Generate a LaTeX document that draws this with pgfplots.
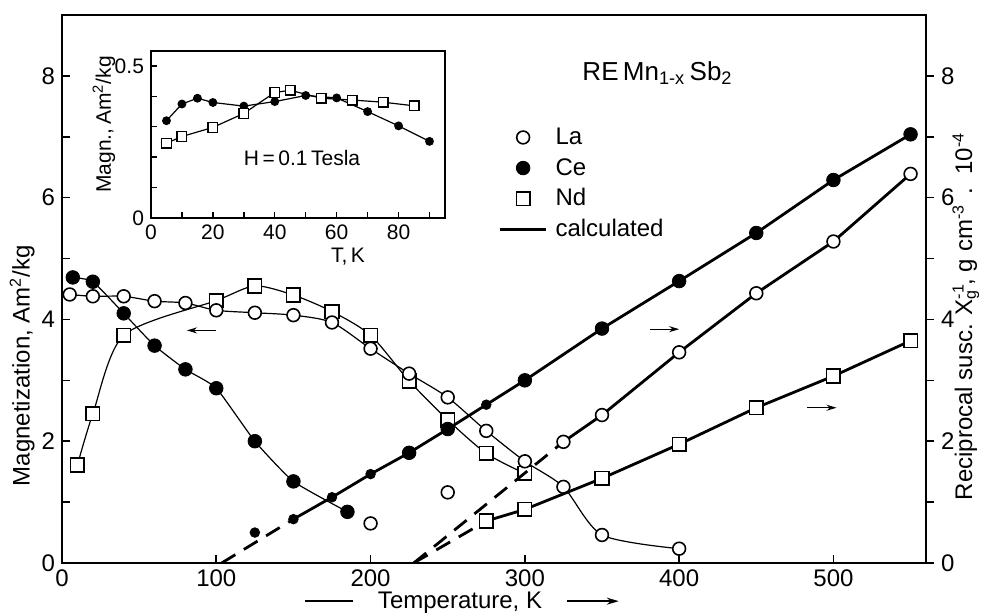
\documentclass[border=0pt]{standalone}
\usepackage{fontspec}
\setmainfont{Liberation Sans}
\usepackage{pgfplots}
\pgfplotsset{compat=1.18}
\usetikzlibrary{arrows.meta}

\newcommand\mainfs{\fontsize{12}{14}\selectfont}
\newcommand\insfs{\fontsize{10.5}{12}\selectfont}

\pgfplotsset{
  magline/.style={black, line width=0.6pt, smooth, tension=0.45},
  calcline/.style={black, line width=1.4pt},
  extrap/.style={black, line width=1.4pt, dash pattern=on 8pt off 5pt},
  openc/.style={only marks, mark=*, mark size=3.2pt, mark options={fill=white, draw=black, line width=0.8pt}},
  fillc/.style={only marks, mark=*, mark size=3.4pt, mark options={fill=black, draw=black}},
  smallc/.style={only marks, mark=*, mark size=2.4pt, mark options={fill=black, draw=black}},
  opens/.style={only marks, mark=square*, mark size=3.4pt, mark options={fill=white, draw=black, line width=0.8pt}},
}

\begin{document}
\begin{tikzpicture}
\useasboundingbox (-31pt,-26pt) rectangle (459.5pt,281.5pt);

% left axis: magnetization
\begin{axis}[
  scale only axis, width=432pt, height=274pt,
  xmin=0, xmax=560, ymin=0, ymax=9,
  xtick={0,100,...,500}, ytick={0,2,...,8}, minor ytick={1,3,5,7},
  xtick pos=bottom, ytick pos=left, tick align=inside,
  major tick length=4pt, minor tick length=4pt,
  axis line style={line width=1pt}, tick style={line width=0.8pt, black},
  /pgf/number format/assume math mode=true,
  tick label style={font=\mainfs},
  label style={font=\mainfs},
  ylabel={Magnetization, Am\textsuperscript{2}/kg},
  ylabel style={at={(axis description cs:-0.046,0.36)}, anchor=center},
  xlabel={\tikz[baseline=-0.6ex]\draw[line width=0.7pt] (0,0)--(24pt,0);\quad Temperature, K\quad\tikz[baseline=-0.6ex]\draw[line width=0.7pt,-{Stealth[length=6pt,width=3.5pt]}] (0,0)--(26pt,0);},
  xlabel style={at={(axis description cs:0.463,-0.073)}, anchor=center},
]
% La
\addplot[magline] coordinates {(5,4.41) (20,4.38) (40,4.38) (60,4.30) (80,4.27) (100,4.15) (125,4.11) (150,4.07) (175,3.95) (200,3.52) (225,3.11) (250,2.72) (275,2.17) (300,1.67) (325,1.25) (350,0.46) (400,0.235)};
% Ce
\addplot[magline, tension=0.3] coordinates {(7,4.69) (20,4.62) (40,4.10) (60,3.57) (80,3.18) (100,2.87) (125,2.0) (150,1.34) (185,0.84)};
% Nd
\addplot[magline] coordinates {(10,1.61) (20,2.45) (40,3.74) (100,4.31) (125,4.55) (150,4.40) (175,4.13) (200,3.74) (225,2.99) (250,2.35) (275,1.80) (300,1.47)};
\addplot[opens] coordinates {(10,1.61) (20,2.45) (40,3.74) (100,4.31) (125,4.55) (150,4.40) (175,4.13) (200,3.74) (225,2.99) (250,2.35) (275,1.80) (300,1.47)};
\addplot[openc] coordinates {(5,4.41) (20,4.38) (40,4.38) (60,4.30) (80,4.27) (100,4.15) (125,4.11) (150,4.07) (175,3.95) (200,3.52) (225,3.11) (250,2.72) (275,2.17) (300,1.67) (325,1.25) (350,0.46) (400,0.235)};
\addplot[openc] coordinates {(200,0.65) (250,1.16)};
\addplot[fillc] coordinates {(7,4.69) (20,4.62) (40,4.10) (60,3.57) (80,3.18) (100,2.87) (125,2.0) (150,1.34) (185,0.84)};
\addplot[smallc] coordinates {(125,0.50)};
\draw[line width=0.6pt, -{Stealth[length=5pt,width=3pt]}] (axis cs:100,3.82) -- (axis cs:81,3.82);
\node[font=\fontsize{13}{15}\selectfont] at (axis cs:386,8.05) {RE\,Mn\textsubscript{1-x}\,Sb\textsubscript{2}};
\end{axis}

% right axis: reciprocal susceptibility
\begin{axis}[
  scale only axis, width=432pt, height=274pt,
  xmin=0, xmax=560, ymin=0, ymax=9,
  axis x line=none, axis y line*=right,
  ytick={0,2,...,8}, minor ytick={1,3,5,7}, tick align=outside,
  major tick length=4pt, minor tick length=4pt,
  axis line style={line width=1pt}, tick style={line width=0.8pt, black},
  /pgf/number format/assume math mode=true,
  tick label style={font=\mainfs},
  label style={font=\mainfs},
  ylabel={Reciprocal susc. X\rlap{\textsuperscript{-1}}\textsubscript{g}\,, g cm\textsuperscript{-3}\, . \,10\textsuperscript{-4}},
  ylabel style={at={(axis description cs:1.046,0.45)}, anchor=center, rotate=0},
  legend style={at={(axis description cs:0.505,0.801)}, anchor=north west, draw=none, fill=none,
    inner sep=0pt, font=\mainfs, row sep=2.3pt, column sep=3pt,
    nodes={inner sep=1pt, text height=9pt, text depth=2pt}},
  legend cell align=left,
  legend image code/.code={\draw[mark repeat=2,mark phase=2,#1] plot coordinates {(0pt,0pt) (11.5pt,0pt) (23pt,0pt)};},
]
\addlegendimage{openc}
\addlegendimage{fillc}
\addlegendimage{opens}
\addlegendimage{calcline}
\legend{La, Ce, Nd, calculated}
% La
\addplot[extrap] coordinates {(228,0) (325,1.99)};
\addplot[calcline] coordinates {(325,1.99) (350,2.43) (400,3.46) (450,4.43) (500,5.28) (550,6.39)};
\addplot[openc] coordinates {(325,1.99) (350,2.43) (400,3.46) (450,4.43) (500,5.28) (550,6.39)};
% Ce
\addplot[extrap] coordinates {(103.5,0) (150,0.72)};
\addplot[calcline] coordinates {(150,0.72) (175,1.08) (200,1.46) (225,1.81) (250,2.2) (275,2.6) (300,3.0) (350,3.85) (400,4.63) (450,5.42) (500,6.29) (550,7.04)};
\addplot[smallc] coordinates {(150,0.72) (175,1.08) (200,1.46) (275,2.6)};
\addplot[fillc] coordinates {(225,1.81) (250,2.2) (300,3.0) (350,3.85) (400,4.63) (450,5.42) (500,6.29) (550,7.04)};
% Nd
\addplot[extrap] coordinates {(228,0) (275,0.69)};
\addplot[calcline] coordinates {(275,0.69) (300,0.88) (350,1.39) (400,1.95) (450,2.55) (500,3.07) (550,3.65)};
\addplot[opens] coordinates {(275,0.69) (300,0.88) (350,1.39) (400,1.95) (450,2.55) (500,3.07) (550,3.65)};
\draw[line width=0.6pt, -{Stealth[length=5pt,width=3pt]}] (axis cs:381,3.84) -- (axis cs:400,3.84);
\draw[line width=0.6pt, -{Stealth[length=5pt,width=3pt]}] (axis cs:483,2.55) -- (axis cs:502,2.55);
\end{axis}

% inset: low field magnetization
\begin{axis}[
  at={(44.5pt,172.5pt)}, anchor=south west,
  scale only axis, width=147pt, height=83.6pt,
  xmin=0, xmax=95, ymin=0, ymax=0.55,
  xtick={0,20,...,80}, minor xtick={10,30,...,90},
  ytick={0,0.5}, minor ytick={0.1,0.2,0.3,0.4},
  xtick pos=bottom, ytick pos=left, tick align=inside,
  major tick length=3pt, minor tick length=3pt,
  axis line style={line width=0.9pt}, tick style={line width=0.7pt, black},
  axis background/.style={fill=white},
  /pgf/number format/assume math mode=true,
  tick label style={font=\insfs},
  label style={font=\insfs},
  ylabel={Magn.,\,Am\textsuperscript{2}/kg},
  ylabel style={at={(axis description cs:-0.16,0.56)}, anchor=center},
  xlabel={T,\,K},
  xlabel style={at={(axis description cs:0.67,-0.233)}, anchor=center},
]
\addplot[black, line width=0.6pt, mark=*, mark size=1.9pt, mark options={fill=black}] coordinates {(5,0.32) (10,0.375) (15,0.394) (20,0.38) (30,0.368) (40,0.383) (50,0.403) (60,0.395) (70,0.35) (80,0.303) (90,0.252)};
\addplot[black, line width=0.6pt, mark=square*, mark size=2.4pt, mark options={fill=white, line width=0.7pt}] coordinates {(5,0.246) (10,0.268) (20,0.298) (30,0.344) (40,0.413) (45,0.42) (55,0.394) (65,0.388) (75,0.381) (85,0.369)};
\node[font=\insfs] at (axis cs:48.8,0.196) {H\,=\,0.1\,Tesla};
\end{axis}
\end{tikzpicture}
\end{document}
